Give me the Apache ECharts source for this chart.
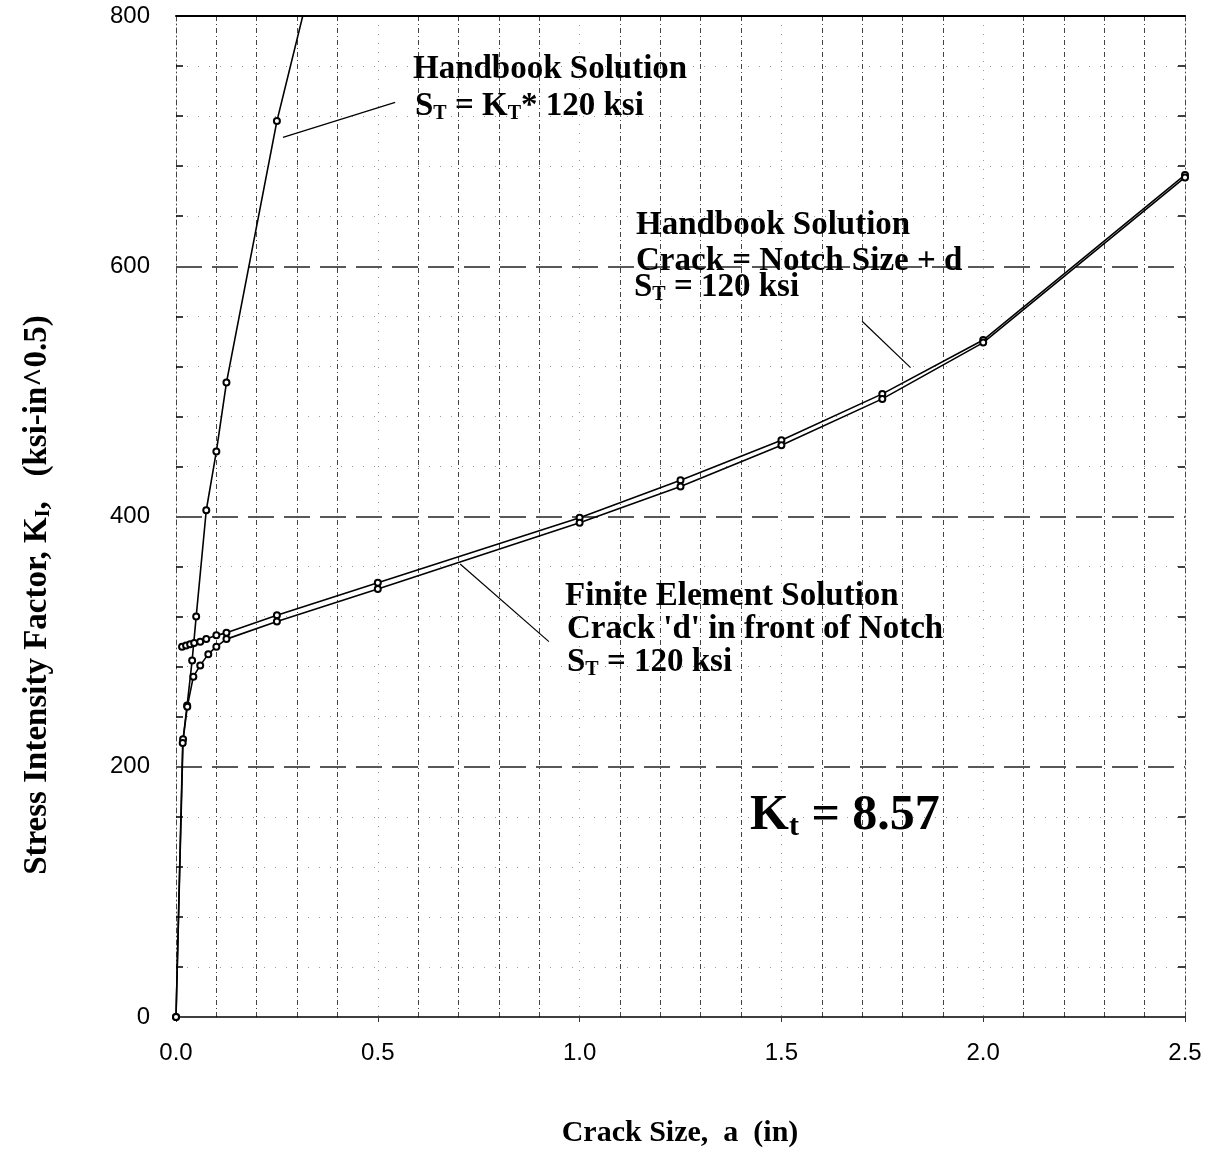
<!DOCTYPE html>
<html><head><meta charset="utf-8">
<script src="https://cdn.jsdelivr.net/npm/echarts/dist/echarts.min.js"></script>
<style>html,body{margin:0;padding:0;background:#fff;} #c{width:1215px;height:1153px;}</style>
</head><body><div id="c"></div>
<script>
// ---- data ----
const xRange = [0, 2.5];
const yRange = [0, 800];
// Handbook Solution, S_T = K_T * 120 ksi  [crack size, K_I]
const handbookKt = [[0,0],[0.0175,222],[0.0275,249],[0.04,285],[0.05,320],[0.075,405],[0.1,452],[0.125,507],[0.25,716],[0.375,880]];
// Handbook Solution, Crack = Notch Size + d, S_T = 120 ksi
const handbookNotch = [[0.015,296],[0.025,297],[0.035,298],[0.045,299],[0.06,300],[0.075,302],[0.1,305],[0.125,307],[0.25,321],[0.5,347],[1.0,399],[1.25,429],[1.5,461],[1.75,498],[2.0,541],[2.5,673]];
// Finite Element Solution, Crack 'd' in front of Notch, S_T = 120 ksi
const finiteElement = [[0,0],[0.0166,219],[0.028,248],[0.043,272],[0.06,281],[0.08,290],[0.1,296],[0.125,302],[0.25,316],[0.5,342],[1.0,395],[1.25,424],[1.5,457],[1.75,494],[2.0,539],[2.5,671]];
// leader lines (data coordinates)
const leaderKt = [[0.265,703],[0.543,731]];
const leaderNotch = [[1.70,556],[1.82,519]];
const leaderFE = [[0.704,362],[0.924,300]];

const serif = '"Liberation Serif", "Times New Roman", serif';
const sans = '"Liberation Sans", Arial, sans-serif';
const dashDot = [5,3,1,3];

const chart = echarts.init(document.getElementById('c'), null, {renderer:'canvas'});

function sub(size, pad){ return {fontSize:size, fontFamily:serif, fontWeight:'bold', fill:'#000', padding:[pad,0,0,0], lineHeight:size}; }
function txt(x, y, text, size, extra){
  return Object.assign({type:'text', x:x, y:y, z:100, style:{text:text, fontSize:size, fontFamily:serif, fontWeight:'bold', fill:'#000', align:'left', verticalAlign:'middle', rich:{sub:sub(Math.round(size*0.6), Math.round(size*0.45))}}}, extra||{});
}

const lineSeries = (name, data) => ({
  name, type:'line', data, xAxisIndex:0, yAxisIndex:0,
  symbol:'emptyCircle', symbolSize:6, showAllSymbol:true, clip:true,
  lineStyle:{color:'#000', width:1.6}, itemStyle:{color:'#000', borderWidth:1}, z:5
});

const leader = (pts) => [{coord:pts[0]},{coord:pts[1]}];

chart.setOption({
  animation:false,
  backgroundColor:'#fff',
  grid:{left:176, right:30, top:16, bottom:136},
  xAxis:[{
    type:'value', min:xRange[0], max:xRange[1], interval:0.5, position:'bottom',
    axisLine:{show:true, onZero:false, lineStyle:{color:'#000', width:1.5}},
    axisTick:{show:true, length:5, lineStyle:{color:'#333'}},
    axisLabel:{formatter:v=>v.toFixed(1), fontFamily:sans, fontSize:24, color:'#000', margin:24},
    splitLine:{show:true, showMinLine:false, showMaxLine:false, lineStyle:{type:[1,8], color:'#999', width:1}},
    minorTick:{show:false, splitNumber:5},
    minorSplitLine:{show:true, lineStyle:{type:dashDot, color:'#444', width:1}}
  },{
    type:'value', min:xRange[0], max:xRange[1], interval:0.5, position:'top',
    axisLine:{show:true, onZero:false, lineStyle:{color:'#000', width:2}},
    axisTick:{show:false}, axisLabel:{show:false}, splitLine:{show:false}
  }],
  yAxis:[{
    type:'value', min:yRange[0], max:yRange[1], interval:200, position:'left',
    axisLine:{show:true, onZero:false, lineStyle:{type:dashDot, color:'#444', width:1}},
    axisTick:{show:false, inside:true},
    minorTick:{show:true, splitNumber:5, length:7, lineStyle:{color:'#000', width:1.5}},
    axisLabel:{fontFamily:sans, fontSize:24, color:'#000', margin:26},
    splitLine:{show:true, showMinLine:false, showMaxLine:false, lineStyle:{type:[26,10], color:'#222', width:1.5}},
    minorSplitLine:{show:true, lineStyle:{type:[1,10], color:'#999', width:1}}
  },{
    type:'value', min:yRange[0], max:yRange[1], interval:200, position:'right',
    axisLine:{show:true, onZero:false, lineStyle:{type:dashDot, color:'#444', width:1}},
    axisTick:{show:false, inside:true},
    minorTick:{show:true, splitNumber:5, length:7, lineStyle:{color:'#000', width:1.5}},
    axisLabel:{show:false}, splitLine:{show:false}
  }],
  series:[
    lineSeries('Handbook K_T', handbookKt),
    lineSeries('Handbook Notch', handbookNotch),
    Object.assign(lineSeries('Finite Element', finiteElement), {
      markLine:{silent:true, symbol:['none','none'], label:{show:false}, animation:false,
        lineStyle:{color:'#000', width:1.2, type:'solid'},
        emphasis:{disabled:true},
        data:[leader(leaderKt), leader(leaderNotch), leader(leaderFE)]}
    })
  ],
  graphic:[
    txt(413, 69, 'Handbook Solution', 33),
    txt(415, 106, 'S{sub|T} = K{sub|T}* 120 ksi', 33),
    txt(636, 225, 'Handbook Solution', 33),
    txt(636, 261, 'Crack = Notch Size + d', 33),
    txt(634, 287, 'S{sub|T} = 120 ksi', 33),
    txt(565, 596, 'Finite Element Solution', 33),
    txt(567, 629, "Crack 'd' in front of Notch", 33),
    txt(567, 662, 'S{sub|T} = 120 ksi', 33),
    txt(750, 816, 'K{sub|t} = 8.57', 50),
    {type:'text', x:680, y:1133, z:100, style:{text:'Crack Size,  a  (in)', fontSize:30, fontFamily:serif, fontWeight:'bold', fill:'#000', align:'center', verticalAlign:'middle'}},
    {type:'text', x:37, y:595, rotation:Math.PI/2, z:100, style:{text:'Stress Intensity Factor, K{sub|I},   (ksi-in^0.5)', fontSize:33, fontFamily:serif, fontWeight:'bold', fill:'#000', align:'center', verticalAlign:'middle', rich:{sub:sub(20,14)}}}
  ]
});
</script></body></html>
